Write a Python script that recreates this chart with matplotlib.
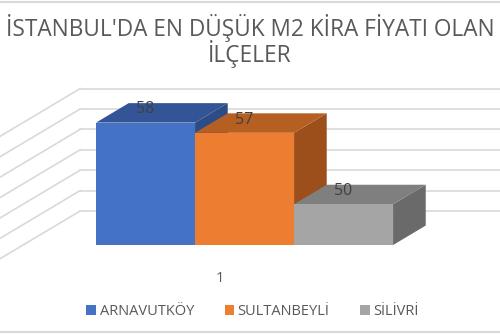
import matplotlib.pyplot as plt
from matplotlib.patches import Polygon

# data
districts = ['ARNAVUTKÖY', 'SULTANBEYLİ', 'SİLİVRİ']
rent = [58, 57, 50]
category = '1'
title = "İSTANBUL'DA EN DÜŞÜK M2 KİRA FİYATI OLAN\nİLÇELER"
grid_vals = [46, 48, 50, 52, 54, 56, 58]

front_cols = ['#4472C4', '#ED7D31', '#A5A5A5']
top_cols = ['#335597', '#B65F23', '#7F7F7F']
side_cols = ['#2C4C88', '#9C4F1B', '#6A6A6A']

base = 46
ddx, ddy = 0.33, 1.91          # bar depth offset
wdx, wdy = 0.58, 3.34          # back wall offset
wall_left = -0.74
grid_col = '#D9D9D9'
text_col = '#595959'

fig = plt.figure(figsize=(5, 3.35), dpi=100)
ax = fig.add_axes([0, 0, 1, 1])
ax.set_xlim(-0.97, 4.08)
ax.set_ylim(37.18, 70.02)
ax.axis('off')

# back wall + side wall gridlines
for g in grid_vals:
    bx, by = wall_left + wdx, g + wdy
    ax.plot([bx, 6], [by, by], color=grid_col, lw=1.2, zorder=0)
    ax.plot([bx, bx - 3 * ddx * 3], [by, by - 3 * ddy * 3], color=grid_col, lw=1.2, zorder=0)

handles = []
for i, (name, v) in enumerate(zip(districts, rent)):
    x0, x1 = i, i + 1
    z = 2 + i
    side = Polygon([(x1, base), (x1, v), (x1 + ddx, v + ddy), (x1 + ddx, base + ddy)],
                   closed=True, fc=side_cols[i], ec='none', zorder=z)
    top = Polygon([(x0, v), (x1, v), (x1 + ddx, v + ddy), (x0 + ddx, v + ddy)],
                  closed=True, fc=top_cols[i], ec='none', zorder=z)
    ax.add_patch(side)
    ax.add_patch(top)
    b = ax.bar(x0, v - base, bottom=base, width=1, align='edge', color=front_cols[i],
               label=name, zorder=z)
    handles.append(b)
    ax.text(x0 + 0.5, v + 1.3, str(v), ha='center', va='center', fontsize=11.5,
            color='#404040', family='Open Sans', zorder=10)

ax.text(1.25, 42.76, category, ha='center', va='center', fontsize=10.5,
        color=text_col, family='Open Sans')

fig.text(0.5, 1 - 41 / 335, title, ha='center', va='center', fontsize=16.3,
         color=text_col, family='Open Sans', linespacing=0.9)

leg = fig.legend(handles=handles, loc='center', bbox_to_anchor=(0.505, 1 - 311.5 / 335),
                 ncol=3, frameon=False, handlelength=0.65, handleheight=0.65,
                 handletextpad=0.25, columnspacing=2.1, prop={'family': 'Open Sans', 'size': 10.5})
for t in leg.get_texts():
    t.set_color(text_col)

# chart border lines top/bottom
fig.add_artist(plt.Line2D([0, 1], [1 - 1.5 / 335, 1 - 1.5 / 335], color=grid_col, lw=1.5))
fig.add_artist(plt.Line2D([0, 1], [1 - 332 / 335, 1 - 332 / 335], color=grid_col, lw=1.5))

fig.savefig('out.png', dpi=100)
